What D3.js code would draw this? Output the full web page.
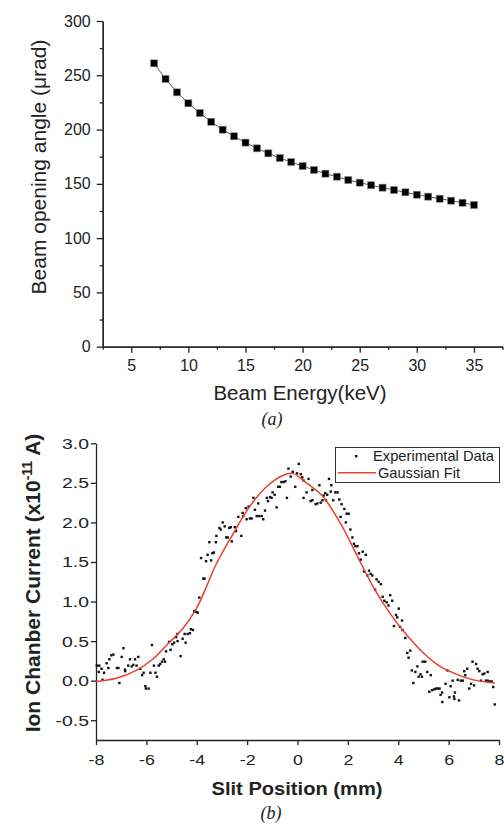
<!DOCTYPE html>
<html>
<head>
<meta charset="utf-8">
<script src="https://cdn.jsdelivr.net/npm/d3@7"></script>
<style>
  body { margin: 0; background: #fff; }
  svg { display: block; font-family: "Liberation Sans", Arial, sans-serif; }
  .axis text { fill: #222; }
  .axis path, .axis line { stroke: #222; stroke-width: 1.3; }
</style>
</head>
<body>
<svg id="fig" width="504" height="824"></svg>
<script>
// (a) beam opening angle vs beam energy
const energy = [7, 8, 9, 10, 11, 12, 13, 14, 15, 16, 17, 18, 19, 20, 21,
                22, 23, 24, 25, 26, 27, 28, 29, 30, 31, 32, 33, 34, 35];
const angle = [261, 246.6, 234.3, 224.2, 215.2, 207.2, 199.9, 193.8, 188, 182.7,
               178.1, 173.8, 170.1, 166.4, 162.8, 159.4, 156.6, 153.5, 151.1, 148.7,
               146.5, 144.3, 142.2, 140, 138.2, 136.3, 134.5, 132.6, 130.5];
const topXTicks = [5, 10, 15, 20, 25, 30, 35];
const topXMinor = [2.5, 7.5, 12.5, 17.5, 22.5, 27.5, 32.5, 37.5];
const topYTicks = [0, 50, 100, 150, 200, 250, 300];
const topYMinor = [25, 75, 125, 175, 225, 275];

// (b) ion chamber current vs slit position, [mm, x1e-11 A]
const expPoints = [
  [-7.97,0.19],[-7.87,0.19],[-7.89,0.11],[-7.78,0.15],[-7.74,0.01],[-7.68,0.10],[-7.58,0.22],
  [-7.51,0.16],[-7.47,0.27],[-7.39,0.32],[-7.31,0.33],[-7.17,0.16],[-7.11,0.16],[-7.07,-0.03],
  [-6.98,0.30],[-6.91,0.41],[-6.85,0.14],[-6.84,0.12],[-6.72,0.19],[-6.65,0.27],[-6.58,0.18],
  [-6.52,0.20],[-6.45,0.27],[-6.39,0.19],[-6.32,0.30],[-6.24,0.15],[-6.17,0.07],[-6.11,0.10],
  [-6.04,-0.07],[-6.02,-0.10],[-5.91,-0.10],[-5.84,0.10],[-5.78,0.45],[-5.70,0.19],[-5.64,0.10],
  [-5.58,0.05],[-5.51,0.19],[-5.45,0.21],[-5.38,0.24],[-5.31,0.27],[-5.26,0.24],[-5.22,0.37],
  [-5.10,0.49],[-5.04,0.39],[-4.97,0.46],[-4.90,0.48],[-4.82,0.55],[-4.77,0.59],[-4.76,0.50],
  [-4.64,0.31],[-4.56,0.53],[-4.48,0.59],[-4.44,0.48],[-4.36,0.59],[-4.27,0.60],[-4.23,0.65],
  [-4.15,0.64],[-4.10,0.88],[-4.03,0.87],[-3.96,0.86],[-3.90,1.05],
  [-3.83,1.55],[-3.74,1.29],[-3.69,1.29],[-3.63,1.51],[-3.57,1.59],[-3.50,1.75],[-3.43,1.52],
  [-3.38,1.61],[-3.32,1.62],[-3.24,1.75],[-3.22,1.83],[-3.10,1.93],[-3.05,1.91],[-2.97,2.00],
  [-2.89,1.95],[-2.83,1.81],[-2.77,1.81],[-2.71,1.93],[-2.65,1.94],[-2.61,1.76],[-2.49,1.94],
  [-2.44,1.89],[-2.35,2.07],[-2.23,1.83],[-2.18,2.12],[-2.15,2.08],[-2.05,2.18],[-2.02,2.04],
  [-1.94,2.20],[-1.89,2.05],[-1.82,2.05],[-1.75,2.31],[-1.69,2.16],[-1.62,2.08],[-1.56,2.24],
  [-1.52,2.08],[-1.42,2.08],[-1.36,2.04],[-1.29,2.15],[-1.22,2.31],[-1.17,2.27],[-1.09,2.32],
  [-1.03,2.31],[-0.99,2.38],[-0.91,2.35],[-0.83,2.19],[-0.77,2.45],[-0.70,2.45],[-0.64,2.51],
  [-0.56,2.51],[-0.48,2.52],[-0.42,2.31],[-0.36,2.68],[-0.27,2.58],[-0.19,2.64],[-0.09,2.45],
  [-0.02,2.62],[0.05,2.74],
  [0.13,2.61],[0.19,2.57],[0.24,2.53],[0.24,2.31],[0.36,2.38],[0.44,2.55],[0.52,2.27],
  [0.59,2.28],[0.59,2.41],[0.72,2.23],[0.79,2.24],[0.87,2.47],[0.92,2.25],[0.99,2.28],
  [1.04,2.34],[1.10,2.37],[1.13,2.28],[1.18,2.35],[1.25,2.55],[1.32,2.39],[1.34,2.47],
  [1.42,2.28],[1.50,2.38],[1.59,2.38],[1.66,2.29],[1.71,2.07],[1.75,2.23],[1.86,2.17],
  [1.92,2.00],[1.95,2.11],[2.03,2.11],[2.10,1.91],[2.18,1.81],[2.24,1.73],[2.30,1.70],
  [2.38,1.70],[2.44,1.61],[2.51,1.53],[2.59,1.63],[2.64,1.38],[2.71,1.59],[2.77,1.33],
  [2.84,1.39],[2.90,1.35],[2.97,1.33],[3.08,1.15],[3.14,1.28],[3.22,1.25],[3.31,1.22],
  [3.38,1.06],[3.45,1.01],[3.54,0.99],[3.61,0.95],[3.68,1.08],[3.76,1.01],[3.83,0.69],
  [3.91,0.83],[3.96,0.80],[4.02,0.91],
  [4.07,0.68],[4.15,0.76],[4.17,0.64],[4.28,0.54],[4.36,0.35],[4.41,0.29],[4.48,0.38],
  [4.54,0.13],[4.60,-0.03],[4.68,0.11],[4.76,0.18],[4.81,0.05],[4.88,0.08],[4.94,0.05],
  [4.97,0.24],[5.07,0.24],[5.15,0.11],[5.23,-0.14],[5.29,0.07],[5.34,-0.12],[5.43,-0.11],
  [5.50,-0.10],[5.56,-0.10],[5.64,-0.10],[5.68,-0.18],[5.74,-0.15],[5.75,-0.27],[5.88,-0.04],
  [5.95,0.13],[6.03,-0.21],[6.08,-0.07],[6.16,0.00],[6.21,-0.20],[6.23,-0.23],[6.25,-0.15],
  [6.36,0.01],[6.41,-0.25],[6.48,0.00],[6.56,0.00],[6.62,0.12],[6.66,0.07],[6.74,0.15],
  [6.82,-0.10],[6.89,-0.04],[6.95,0.24],[7.01,-0.06],[7.09,0.21],[7.15,0.15],[7.22,0.12],
  [7.28,0.00],[7.35,0.08],[7.42,0.09],[7.48,0.00],[7.55,0.11],[7.55,0.00],[7.63,-0.01],
  [7.71,-0.01],[7.77,-0.08],[7.83,-0.30]
];
// gaussian fit
const fitPos = [-8, -7.2, -6.4, -5.75, -5.1, -4.55, -4.0, -3.2, -2.55, -1.9, -1.2, -0.6, -0.2,
                0.35, 1.0, 1.7, 2.35, 3.0, 3.67, 4.33, 5.0, 5.66, 6.32, 6.98, 7.83];
const fitCurrent = [-0.01, 0.03, 0.13, 0.27, 0.48, 0.66, 0.92, 1.49, 1.86, 2.2, 2.46, 2.59, 2.62,
                    2.5, 2.33, 1.99, 1.59, 1.19, 0.85, 0.58, 0.35, 0.18, 0.08, 0.01, -0.03];
const botXTicks = [-8, -6, -4, -2, 0, 2, 4, 6, 8];
const botYTicks = [-0.5, 0.0, 0.5, 1.0, 1.5, 2.0, 2.5, 3.0];

// the lower panel's lettering is set wider than the font's natural width
const widen = (sel, k) => sel.each(function() {
  const w = this.getComputedTextLength();
  d3.select(this).attr("textLength", w * k).attr("lengthAdjust", "spacingAndGlyphs");
});

const svg = d3.select("#fig");
svg.append("rect").attr("width", 504).attr("height", 824).attr("fill", "#fff");

// ---------- panel (a) ----------
const xTop = d3.scaleLinear().domain([2.5, 37.5]).range([102.7, 502.5]);
const yTop = d3.scaleLinear().domain([0, 300]).range([346.7, 21]);

const gA = svg.append("g");
gA.append("g").attr("class", "axis")
  .attr("transform", "translate(0," + yTop(0) + ")")
  .call(d3.axisBottom(xTop).tickValues(topXMinor).tickFormat("").tickSize(3).tickSizeOuter(0));
gA.append("g").attr("class", "axis")
  .attr("transform", "translate(0," + yTop(0) + ")")
  .call(d3.axisBottom(xTop).tickValues(topXTicks).tickSize(6).tickSizeOuter(0).tickPadding(7));
gA.append("g").attr("class", "axis")
  .attr("transform", "translate(" + xTop(2.5) + ",0)")
  .call(d3.axisLeft(yTop).tickValues(topYMinor).tickFormat("").tickSize(3).tickSizeOuter(0));
gA.append("g").attr("class", "axis")
  .attr("transform", "translate(" + xTop(2.5) + ",0)")
  .call(d3.axisLeft(yTop).tickValues(topYTicks).tickSize(6).tickSizeOuter(0).tickPadding(6));
gA.selectAll(".axis text").attr("font-size", "16px");

const lineTop = d3.line().x((d, i) => xTop(energy[i])).y(d => yTop(d));
gA.append("path").datum(angle)
  .attr("d", lineTop)
  .attr("fill", "none")
  .attr("stroke", "#555")
  .attr("stroke-width", 1);
gA.selectAll(".sq").data(angle).enter().append("rect")
  .attr("class", "sq")
  .attr("x", (d, i) => xTop(energy[i]) - 3.5)
  .attr("y", d => yTop(d) - 3.5)
  .attr("width", 7).attr("height", 7)
  .attr("fill", "#000")
  .attr("stroke", "#888").attr("stroke-width", 0.6);

gA.append("text")
  .attr("transform", "translate(46,167) rotate(-90)")
  .attr("text-anchor", "middle")
  .attr("font-size", "21px").attr("fill", "#222")
  .text("Beam opening angle (\u03bcrad)");
gA.append("text")
  .attr("x", 300).attr("y", 400)
  .attr("text-anchor", "middle")
  .attr("font-size", "20.5px").attr("fill", "#222")
  .text("Beam Energy(keV)");
gA.append("text")
  .attr("x", 272).attr("y", 425)
  .attr("text-anchor", "middle")
  .attr("font-family", "'Liberation Serif', 'Times New Roman', serif")
  .attr("font-style", "italic")
  .attr("font-size", "18px").attr("fill", "#222")
  .text("(a)");

// ---------- panel (b) ----------
const xBot = d3.scaleLinear().domain([-8, 8]).range([96, 499]);
const yBot = d3.scaleLinear().domain([-0.75, 3.0]).range([740, 443.3]);

const gB = svg.append("g");
gB.append("g").attr("class", "axis xb")
  .attr("transform", "translate(0," + yBot(-0.75) + ")")
  .call(d3.axisBottom(xBot).tickValues(botXTicks).tickSize(5).tickSizeOuter(0).tickPadding(9));
gB.append("g").attr("class", "axis yb")
  .attr("transform", "translate(" + xBot(-8) + ",0)")
  .call(d3.axisLeft(yBot).tickValues(botYTicks).tickFormat(d3.format(".1f"))
    .tickSize(5).tickSizeOuter(0).tickPadding(2));
// d3 prints a minus sign; the figure uses a hyphen
gB.selectAll(".axis text")
  .attr("font-size", "15.5px")
  .text(function() { return this.textContent.replace("\u2212", "-"); });
widen(gB.selectAll(".xb text"), 1.15);
widen(gB.selectAll(".yb text"), 1.25);

gB.selectAll(".dot").data(expPoints).enter().append("rect")
  .attr("class", "dot")
  .attr("x", d => xBot(d[0]) - 1.2)
  .attr("y", d => yBot(d[1]) - 1.2)
  .attr("width", 2.4).attr("height", 2.4)
  .attr("fill", "#111");

const fitLine = d3.line()
  .x((d, i) => xBot(fitPos[i]))
  .y(d => yBot(d))
  .curve(d3.curveCatmullRom);
gB.append("path").datum(fitCurrent)
  .attr("d", fitLine)
  .attr("fill", "none")
  .attr("stroke", "#e8402c")
  .attr("stroke-width", 1.5);

// legend
const leg = gB.append("g");
leg.append("rect")
  .attr("x", 335.5).attr("y", 447.5).attr("width", 164).attr("height", 35)
  .attr("fill", "#fff").attr("stroke", "#333").attr("stroke-width", 1);
leg.append("rect")
  .attr("x", 355).attr("y", 455).attr("width", 2.4).attr("height", 2.4).attr("fill", "#111");
leg.append("text")
  .attr("x", 373).attr("y", 461).attr("font-size", "14.5px").attr("fill", "#222")
  .attr("textLength", 121).attr("lengthAdjust", "spacingAndGlyphs")
  .text("Experimental Data");
leg.append("line")
  .attr("x1", 338).attr("x2", 376).attr("y1", 472.7).attr("y2", 472.7)
  .attr("stroke", "#e8402c").attr("stroke-width", 1.5);
leg.append("text")
  .attr("x", 378).attr("y", 478).attr("font-size", "14.5px").attr("fill", "#222")
  .attr("textLength", 82).attr("lengthAdjust", "spacingAndGlyphs")
  .text("Gaussian Fit");

const yLab = gB.append("text")
  .attr("transform", "translate(40,583) rotate(-90)")
  .attr("text-anchor", "middle")
  .attr("font-size", "21px").attr("font-weight", "bold").attr("fill", "#222");
yLab.append("tspan").text("Ion Chanber Current (x10");
yLab.append("tspan").attr("dy", -8).attr("font-size", "14px").text("-11");
yLab.append("tspan").attr("dy", 8).text(" A)");

gB.append("text")
  .attr("x", 297).attr("y", 795)
  .attr("text-anchor", "middle")
  .attr("font-size", "18.5px").attr("font-weight", "bold").attr("fill", "#222")
  .attr("textLength", 171).attr("lengthAdjust", "spacingAndGlyphs")
  .text("Slit Position (mm)");
gB.append("text")
  .attr("x", 271).attr("y", 819)
  .attr("text-anchor", "middle")
  .attr("font-family", "'Liberation Serif', 'Times New Roman', serif")
  .attr("font-style", "italic")
  .attr("font-size", "18px").attr("fill", "#222")
  .text("(b)");
</script>
</body>
</html>
